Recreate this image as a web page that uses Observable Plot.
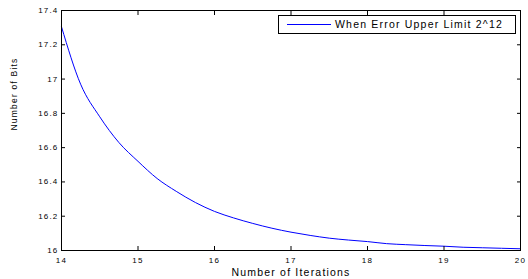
<!DOCTYPE html>
<html>
<head>
<meta charset="utf-8">
<script src="https://cdn.jsdelivr.net/npm/d3@7"></script>
<script src="https://cdn.jsdelivr.net/npm/@observablehq/plot@0.6"></script>
<style>
  html, body { margin: 0; padding: 0; background: #fff; }
  #wrap { position: relative; width: 528px; height: 279px; font-family: "Liberation Sans", Arial, sans-serif; }
  #legend { position: absolute; left: 278px; top: 15px; width: 238px; height: 19px; box-sizing: border-box;
            border: 1px solid #000; background: #fff; }
  #legend .ln { position: absolute; left: 8px; top: 8px; width: 44px; height: 0; border-top: 1px solid #0000ff; }
  #legend .tx { position: absolute; left: 56px; top: 2px; font-size: 10.5px; line-height: 13px; letter-spacing: 1.2px; color: #000; white-space: nowrap; }
</style>
</head>
<body>
<div id="wrap"></div>
<script>
const iterations = [14, 14.25, 14.5, 14.75, 15, 15.25, 15.5, 15.75, 16, 16.25, 16.5, 16.75, 17, 17.25, 17.5, 17.75, 18, 18.25, 18.5, 18.75, 19, 19.25, 19.5, 19.75, 20];
const bits = [17.305, 16.97, 16.78, 16.63, 16.52, 16.42, 16.345, 16.28, 16.228, 16.19, 16.158, 16.13, 16.107, 16.088, 16.072, 16.061, 16.052, 16.04, 16.034, 16.029, 16.025, 16.019, 16.016, 16.013, 16.01];
const xTicks = [14, 15, 16, 17, 18, 19, 20];
const yTicks = [16, 16.2, 16.4, 16.6, 16.8, 17, 17.2, 17.4];
const xLabel = "Number of Iterations";
const yLabel = "Number of Bits";
const seriesName = "When Error Upper Limit 2^12";

const data = iterations.map((x, i) => ({x, y: bits[i]}));
const blank = () => "";

const chart = Plot.plot({
  width: 528,
  height: 279,
  marginLeft: 61,
  marginRight: 8,
  marginTop: 10,
  marginBottom: 29,
  style: {fontFamily: "'Liberation Sans', Arial, sans-serif", fontSize: "8px", letterSpacing: "1.2px", color: "#000", background: "#fff"},
  x: {domain: [14, 20]},
  y: {domain: [16, 17.4]},
  marks: [
    Plot.line(data, {x: "x", y: "y", stroke: "#0000ff", strokeWidth: 1, curve: "monotone-x"}),
    Plot.frame({stroke: "#000", strokeWidth: 1}),
    Plot.axisX({ticks: xTicks, tickSize: 0, tickPadding: 7, tickFormat: d => String(d), label: null}),
    Plot.axisX({ticks: xTicks, tickSize: -4, tickFormat: blank, label: null}),
    Plot.axisX({ticks: xTicks, anchor: "top", tickSize: -4, tickFormat: blank, label: null}),
    Plot.axisY({ticks: yTicks, tickSize: 0, tickPadding: 3, tickFormat: d => String(d), label: null}),
    Plot.axisY({ticks: yTicks, tickSize: -4, tickFormat: blank, label: null}),
    Plot.axisY({ticks: yTicks, anchor: "right", tickSize: -4, tickFormat: blank, label: null}),
    Plot.text([xLabel], {text: d => d, frameAnchor: "bottom", dy: 25, fontSize: 10.5}),
    Plot.text([yLabel], {text: d => d, frameAnchor: "left", dx: -47, rotate: -90, fontSize: 8.5})
  ]
});

const wrap = document.getElementById("wrap");
wrap.appendChild(chart);
const legend = document.createElement("div");
legend.id = "legend";
legend.innerHTML = '<div class="ln"></div><div class="tx"></div>';
legend.querySelector(".tx").textContent = seriesName;
wrap.appendChild(legend);
</script>
</body>
</html>
